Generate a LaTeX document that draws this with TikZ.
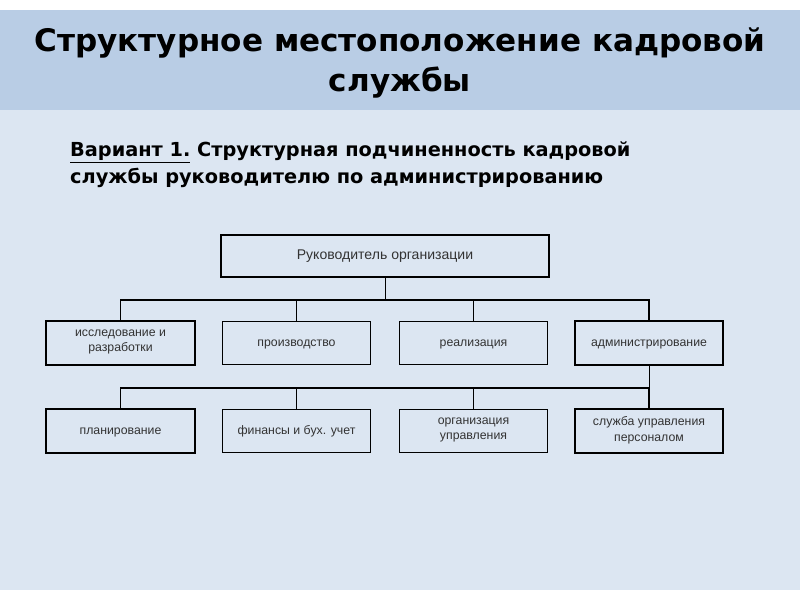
\documentclass[tikz,border=0pt]{standalone}
\usepackage{fontspec}
\setmainfont{Liberation Sans}
\newfontfamily\headfont{DejaVu Sans}
\usetikzlibrary{positioning}
\definecolor{slidebg}{HTML}{DCE6F2}
\definecolor{bandbg}{HTML}{B9CDE5}
\definecolor{boxtext}{HTML}{333333}
\begin{document}
\begin{tikzpicture}[x=0.03cm,y=-0.03cm,
  unit/.style={
    rectangle,
    draw=black,
    fill=slidebg,
    line width=0.9pt,
    minimum width=4.45cm,
    minimum height=1.3cm,
    align=center,
    text=boxtext,
    execute at begin node=\strut,
    font=\fontsize{10.5}{13.5}\selectfont
  },
  thickunit/.style={unit, line width=1.5pt},
  link/.style={line width=0.8pt},
  thicklink/.style={line width=1.5pt}
]
  % Background
  \fill[white] (0,0) rectangle (800,600);
  \fill[slidebg] (0,10) rectangle (800,590);
  \fill[bandbg] (0,10) rectangle (800,110);
  \useasboundingbox (0,0) rectangle (800,600);

  % Titles
  \node[font=\headfont\bfseries\fontsize{26.5}{34}\selectfont, align=center] (title) at (400,63)
    {Структурное местоположение кадровой\\службы};
  \node[font=\headfont\bfseries\fontsize{16.5}{23}\selectfont, align=left, anchor=north west] (subtitle) at (66,138)
    {\underline{Вариант 1.} Структурная подчиненность кадровой\\службы руководителю по администрированию};

  % Head
  \node[unit, minimum width=9.84cm, minimum height=1.26cm, font=\fontsize{12}{14}\selectfont] (head) at (385,256) {Руководитель организации};

  % First level
  \node[thickunit] (research) at (120.5,343) {исследование и\\разработки};
  \node[unit] (production) at (296.5,343) {производство};
  \node[unit] (sales) at (473.5,343) {реализация};
  \node[thickunit] (admin) at (649,343) {администрирование};

  % Second level
  \node[thickunit] (planning) at (120.5,431) {планирование};
  \node[unit] (finance) at (296.5,431) {финансы и бух. учет};
  \node[unit] (management) at (473.5,431) {организация\\управления};
  \node[thickunit] (personnel) at (649,431) {служба управления\\персоналом};

  % Connectors
  \coordinate (bus1) at (385,300);
  \coordinate (bus2) at (649,388);
  \draw[link] (head) -- (bus1);
  \draw[thicklink] (research.north) |- (bus1) -| (admin.north);
  \draw[link] (production.north) -- (production.north |- bus1);
  \draw[link] (sales.north) -- (sales.north |- bus1);
  \draw[link] (admin.south) -- (bus2);
  \draw[thicklink] (planning.north) |- (bus2) -- (personnel.north);
  \draw[link] (finance.north) -- (finance.north |- bus2);
  \draw[link] (management.north) -- (management.north |- bus2);
\end{tikzpicture}
\end{document}
